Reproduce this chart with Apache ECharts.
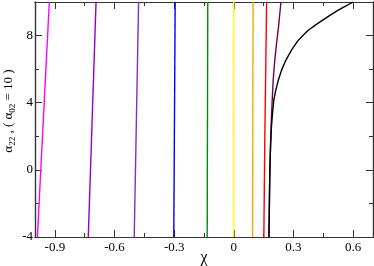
<!DOCTYPE html>
<html><head><meta charset="utf-8">
<script src="https://cdn.jsdelivr.net/npm/echarts@6/dist/echarts.min.js"></script>
<style>html,body{margin:0;padding:0;background:#fff}#c{width:374px;height:266px}</style>
</head><body><div id="c"></div>
<script>
// Tick labels
const xTicks = [-0.9, -0.6, -0.3, 0, 0.3, 0.6];
const xMinorTicks = [-0.75, -0.45, -0.15, 0.15, 0.45];
const yTicks = [-4, 0, 4, 8];
const yMinorTicks = [-2, 2, 6];

// Curves: chi (x) vs alpha22 (y)
const magentaX = [-0.988, -0.928];
const magentaY = [-4, 10];
const violetX = [-0.732, -0.693];
const violetY = [-4, 10];
const indigoX = [-0.501, -0.479];
const indigoY = [-4, 10];
const blueX = [-0.302, -0.295];
const blueY = [-4, 10];
const greenX = [-0.134, -0.131];
const greenY = [-4, 10];
const yellowX = [-0.001, 0.0];
const yellowY = [-4, 10];
const orangeX = [0.094, 0.097];
const orangeY = [-4, 10];
const redX = [0.151, 0.156, 0.165];
const redY = [-4, 2, 10];
const maroonX = [0.176, 0.178, 0.180, 0.182, 0.184, 0.188, 0.193, 0.198, 0.206, 0.214, 0.223, 0.230, 0.237];
const maroonY = [-4, -2.5, -1.0, 0.2, 1.2, 2.8, 4.15, 5.35, 6.54, 7.45, 8.32, 9.15, 10];
const blackX = [0.177, 0.179, 0.181, 0.185, 0.189, 0.194, 0.201, 0.211, 0.224, 0.240, 0.262, 0.290, 0.305, 0.323, 0.345, 0.373, 0.410, 0.447, 0.485, 0.523, 0.562, 0.600];
const blackY = [-4, -2, 0, 1.5, 2.5, 3.3, 4.15, 4.75, 5.35, 5.94, 6.54, 7.13, 7.40, 7.70, 7.98, 8.30, 8.62, 8.92, 9.22, 9.50, 9.76, 10.0];

const curves = [
  [magentaX, magentaY, '#ff00ff'],
  [violetX, violetY, '#9400d3'],
  [indigoX, indigoY, '#7f30c8'],
  [blueX, blueY, '#0000ff'],
  [greenX, greenY, '#008b00'],
  [yellowX, yellowY, '#ffff00'],
  [orangeX, orangeY, '#ffa500'],
  [redX, redY, '#ff0000'],
  [maroonX, maroonY, '#670748'],
  [blackX, blackY, '#000000']
];

const FONT = '"Liberation Serif", "Times New Roman", "DejaVu Serif", serif';
const axisCol = '#333';

function xAx(pos, ticks, len, labels) {
  return {
    type: 'value', position: pos, min: -1, max: 0.7,
    axisLine: {show: true, onZero: false, lineStyle: {color: axisCol, width: 1.2}},
    axisTick: {show: true, inside: true, length: len, customValues: ticks, lineStyle: {color: axisCol, width: 1}},
    axisLabel: labels ? {show: true, customValues: ticks, margin: 4, fontFamily: FONT, fontSize: 13, color: '#000',
      formatter: v => (Math.abs(v) < 1e-9 ? '0' : String(Math.round(v * 10) / 10))} : {show: false},
    splitLine: {show: false}
  };
}
function yAx(pos, ticks, len, labels) {
  return {
    type: 'value', position: pos, min: -4, max: 10,
    axisLine: {show: true, onZero: false, lineStyle: {color: axisCol, width: 1.2}},
    axisTick: {show: true, inside: true, length: len, customValues: ticks, lineStyle: {color: axisCol, width: 1}},
    axisLabel: labels ? {show: true, customValues: ticks, margin: 2, fontFamily: FONT, fontSize: 13, color: '#000'} : {show: false},
    splitLine: {show: false}
  };
}

const chart = echarts.init(document.getElementById('c'), null, {renderer: 'canvas'});
chart.setOption({
  animation: false,
  backgroundColor: '#fff',
  textStyle: {fontFamily: FONT},
  grid: {left: 35, right: 1, top: 2, bottom: 29, containLabel: false},
  xAxis: [xAx('bottom', xTicks, 7, true), xAx('bottom', xMinorTicks, 4, false), xAx('top', xTicks, 7, false), xAx('top', xMinorTicks, 4, false)],
  yAxis: [yAx('left', yTicks, 7, true), yAx('left', yMinorTicks, 4, false), yAx('right', yTicks, 7, false), yAx('right', yMinorTicks, 4, false)],
  series: curves.map(c => ({
    type: 'line', xAxisIndex: 0, yAxisIndex: 0, showSymbol: false, symbol: 'none', clip: true,
    smooth: false,
    lineStyle: {color: c[2], width: 1.4, join: 'round'},
    data: c[0].map((x, i) => [x, c[1][i]])
  })),
  graphic: [
    {type: 'text', x: 204, y: 258, style: {text: 'χ', fontFamily: FONT, fontSize: 16, fill: '#000', align: 'center', verticalAlign: 'middle'}},
    {type: 'text', x: 9, y: 111, rotation: Math.PI / 2, style: {
      text: '{a|α}{s|22}{a| , ( α}{s|02}{a| = 10 )}',
      align: 'center', verticalAlign: 'middle', fill: '#000',
      rich: {
        a: {fontFamily: FONT, fontSize: 13, lineHeight: 16, verticalAlign: 'middle', fill: '#000'},
        s: {fontFamily: FONT, fontSize: 9, lineHeight: 16, verticalAlign: 'bottom', padding: [6, 0, 0, 0], fill: '#000'}
      }
    }}
  ]
});
</script></body></html>
